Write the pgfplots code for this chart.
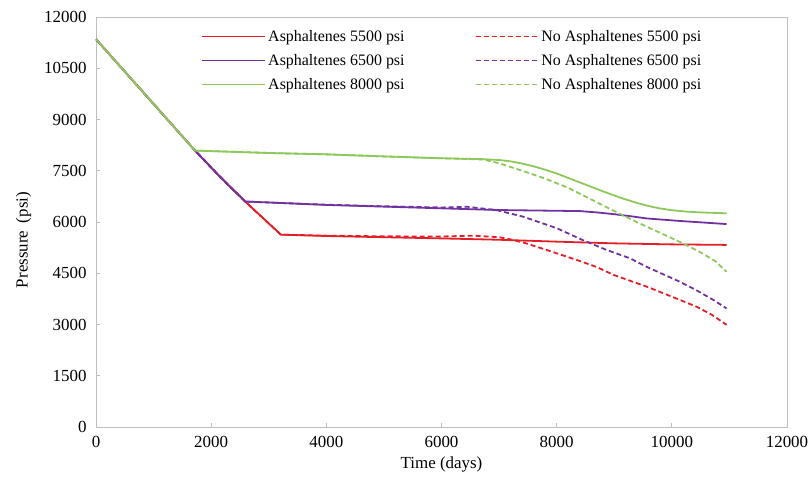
\documentclass[border=0pt]{standalone}
\usepackage{pgfplots}
\pgfplotsset{compat=1.18}
\usepackage{fontspec}
\setmainfont{Liberation Serif}

\definecolor{cred}{RGB}{228,30,38}
\definecolor{cpurple}{RGB}{112,50,160}
\definecolor{cgreen}{RGB}{142,200,92}
\definecolor{cframe}{RGB}{190,190,190}

\tikzset{
  sol/.style={line width=1.8bp, line join=round},
  dsh/.style={line width=1.8bp, line join=round, dash pattern=on 5bp off 3bp},
}

\begin{document}
\begin{tikzpicture}
\begin{axis}[
  scale only axis,
  width=691bp, height=410bp,
  at={(0,0)}, anchor=south west,
  xmin=0, xmax=12000, ymin=0, ymax=12000,
  xtick={0,2000,...,12000},
  ytick={0,1500,...,12000},
  scaled ticks=false,
  /pgf/number format/1000 sep={},
  /pgf/number format/assume math mode=true,
  tick align=inside,
  major tick length=4bp,
  xtick pos=bottom, ytick pos=left,
  axis line style={cframe, line width=0.9bp},
  tick style={cframe, line width=0.8bp},
  ticklabel style={font=\fontsize{17}{19}\selectfont},
  xticklabel style={yshift=-6bp},
  yticklabel style={xshift=-6bp},
  label style={font=\fontsize{17}{19}\selectfont},
  xlabel={Time (days)},
  ylabel={Pressure\hspace{0.45em}(psi)},
  xlabel style={yshift=-2bp},
  ylabel style={yshift=6bp, xshift=-18bp},
  legend style={at={(0.148,0.978)}, anchor=north west, draw=none, fill=none,
    font=\fontsize{16}{18}\selectfont,
    /tikz/every even column/.append style={column sep=68bp},
    row sep=7.5bp},
  legend columns=2,
  legend cell align=left,
  legend image code/.code={%
    \draw[#1, line width=1.8bp] (0bp,0bp) -- (51bp,0bp);
    \path (0bp,0bp) -- (63bp,0bp);},
]

% Row 1 of the legend: 5500 psi
\addplot[cred, sol] coordinates {
(0,11350) (1720,8090) (2150,7330) (2590,6600) (3210,5630)
(4000,5590) (5000,5555) (6000,5520) (7000,5480) (8000,5425)
(9000,5375) (10000,5345) (10950,5330)};
\addlegendentry{Asphaltenes 5500 psi}

\addplot[cred, dsh] coordinates {
(0,11350) (1720,8090) (2150,7330) (2590,6600) (3210,5630)
(4000,5600) (5000,5580) (6000,5575) (6550,5600) (7000,5555)
(7200,5490) (7420,5400) (7700,5250) (8000,5085) (8450,4830) (8700,4680)
(8990,4450) (9560,4110) (10140,3720) (10430,3520) (10700,3280) (10950,2990)};
\addlegendentry{No Asphaltenes 5500 psi}

% Row 2: 6500 psi
\addplot[cpurple, sol] coordinates {
(0,11350) (1720,8090) (2150,7330) (2590,6600)
(4000,6500) (5000,6450) (6000,6400) (7000,6350) (8400,6320)
(8700,6280) (8990,6230) (9280,6170) (9560,6105) (10140,6030) (10950,5940)};
\addlegendentry{Asphaltenes 6500 psi}

\addplot[cpurple, dsh] coordinates {
(0,11350) (1720,8090) (2150,7330) (2590,6600)
(4000,6505) (5000,6460) (6000,6425) (6450,6445) (6950,6350)
(7420,6155) (8000,5820) (8440,5480) (8870,5180) (9270,4940)
(9560,4690) (10140,4250) (10430,4000) (10720,3720) (10950,3470)};
\addlegendentry{No Asphaltenes 6500 psi}

% Row 3: 8000 psi
\addplot[cgreen, sol] coordinates {
(0,11350) (1720,8090) (3000,8020) (4000,7980) (5000,7920) (6000,7865)
(6700,7840) (7000,7815) (7200,7775) (7400,7710) (7600,7630) (7800,7530)
(8000,7420) (8200,7290) (8400,7160) (8600,7030) (8800,6900) (9000,6775)
(9200,6660) (9400,6555) (9600,6465) (9800,6395) (10000,6345)
(10250,6305) (10500,6280) (10950,6255)};
\addlegendentry{Asphaltenes 8000 psi}

\addplot[cgreen, dsh] coordinates {
(0,11350) (1720,8090) (3000,8020) (4000,7980) (5000,7920) (6000,7865)
(6726,7830) (7000,7720) (7400,7500) (7800,7270) (8200,7000) (8600,6660)
(9000,6320) (9400,5990) (9800,5680) (10200,5370) (10500,5110)
(10750,4860) (10950,4545)};
\addlegendentry{No Asphaltenes 8000 psi}

% closing the frame on top and right
\draw[cframe, line width=0.9bp] (rel axis cs:0,1) -- (rel axis cs:1,1) -- (rel axis cs:1,0);
\end{axis}
\pgfresetboundingbox
\path (-96bp,-56bp) rectangle (713bp,427bp);
\end{tikzpicture}
\end{document}
